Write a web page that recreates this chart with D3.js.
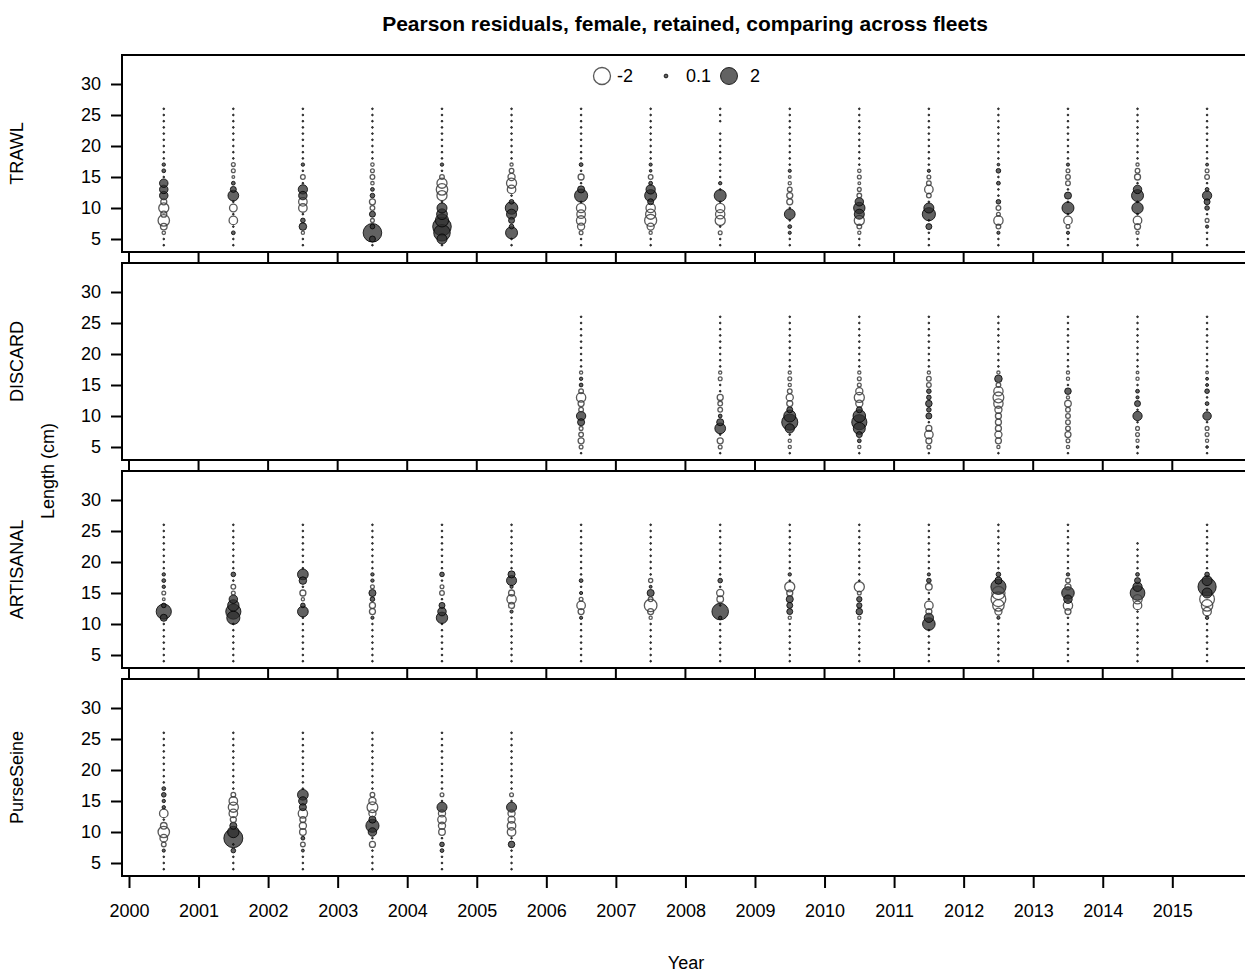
<!DOCTYPE html>
<html>
<head>
<meta charset="utf-8">
<script src="https://cdn.jsdelivr.net/npm/d3@7"></script>
<style>
  body { margin: 0; background: #fff; }
  text { font-family: "Liberation Sans", Arial, sans-serif; fill: #000; }
</style>
</head>
<body>
<div id="chart"></div>
<script>
const width = 1245;
const height = 974;

const t = 0.02; // near-zero residual, shows as a tiny dot

// lengths (cm) of each bin, bottom to top
const lengths = [4, 5, 6, 7, 8, 9, 10, 11, 12, 13, 14, 15, 16, 17, 18, 19, 20, 21, 22, 23, 24, 25, 26];
const yearTicks = [2000, 2001, 2002, 2003, 2004, 2005, 2006, 2007, 2008, 2009, 2010, 2011, 2012, 2013, 2014, 2015];
const lengthTicks = [5, 10, 15, 20, 25, 30];
const legendValues = [-2, 0.1, 2];

// Pearson residuals per year, one value per length bin (4..26 cm)
const trawlYears = [2000.5, 2001.5, 2002.5, 2003.5, 2004.5, 2005.5, 2006.5, 2007.5, 2008.5, 2009.5, 2010.5, 2011.5, 2012.5, 2013.5, 2014.5, 2015.5];
const trawlResid = [
  [t, t, -0.08, -0.3, -0.9, -0.25, -0.7, -0.25, 0.5, 0.5, 0.5, t, 0.1, 0.08, t, t, t, t, t, t, t, t, t],
  [t, t, 0.1, t, -0.5, t, -0.4, t, 0.8, 0.25, 0.1, -0.05, -0.1, -0.1, t, t, t, t, t, t, t, t, t],
  [t, t, -0.07, 0.4, 0.15, t, -0.5, -0.5, 0.5, 0.6, t, -0.15, t, 0.08, t, t, t, t, t, t, t, t, t],
  [t, 0.25, 2.4, 0.15, -0.1, 0.25, -0.15, -0.25, 0.15, 0.1, -0.08, -0.15, -0.1, -0.08, t, t, t, t, t, t, t, t, t],
  [t, 0.7, 1.9, 2.4, 1.2, 0.8, 0.7, t, -0.7, -0.9, -0.7, -0.15, t, 0.08, t, t, t, t, t, t, t, t, t],
  [t, t, 1.0, 0.15, 0.25, 0.7, 1.1, 0.15, t, -0.5, -0.7, -0.35, -0.15, -0.07, t, t, t, t, t, t, t, t, t],
  [t, t, -0.1, -0.35, -0.6, -0.5, -0.6, t, 1.2, 0.35, t, -0.25, t, 0.1, t, t, t, t, t, t, t, t, t],
  [t, t, -0.07, -0.35, -1.0, -0.7, -0.6, 0.25, 1.0, 0.6, 0.1, -0.15, 0.05, 0.07, t, t, t, t, t, t, t, t, t],
  [t, t, -0.1, t, -0.7, -0.6, -0.6, t, 1.0, t, 0.08, t, t, t, t, t, t, t, t, null, t, t, t],
  [t, t, 0.07, 0.1, t, 0.8, t, -0.25, -0.25, -0.15, -0.07, -0.05, 0.07, t, t, t, t, t, t, t, t, t, t],
  [t, t, -0.07, -0.15, -0.7, 0.7, 0.9, 0.5, -0.15, -0.1, -0.05, -0.1, -0.08, t, t, t, t, t, t, t, t, t, t],
  [t, t, t, 0.25, t, 1.2, 0.7, t, -0.15, -0.5, -0.15, -0.1, 0.07, t, t, t, t, t, t, t, t, t, t],
  [t, t, 0.07, -0.15, -0.6, -0.1, -0.15, 0.15, t, t, 0.1, t, 0.15, 0.05, t, t, t, t, t, t, t, t, t],
  [t, t, 0.07, -0.1, -0.5, t, 1.0, t, 0.35, t, -0.15, -0.15, -0.1, 0.07, t, t, t, t, t, t, t, t, t],
  [t, t, -0.07, -0.25, -0.5, t, 0.9, t, 1.0, 0.5, t, -0.25, -0.15, -0.07, t, t, t, t, t, t, t, t, t],
  [t, t, t, 0.07, -0.1, t, 0.15, 0.25, 0.6, 0.1, t, -0.15, -0.1, 0.06, t, t, t, t, t, t, t, t, t]
];

const discardYears = [2006.5, 2008.5, 2009.5, 2010.5, 2011.5, 2012.5, 2013.5, 2014.5, 2015.5];
const discardResid = [
  [t, -0.1, -0.25, -0.15, -0.1, 0.35, 0.6, -0.15, -0.25, -0.6, -0.15, 0.1, 0.08, -0.07, t, t, t, t, t, t, t, t, t],
  [t, -0.1, -0.25, t, 0.8, 0.35, 0.1, -0.15, -0.15, -0.25, t, t, -0.1, -0.07, t, t, t, t, t, t, t, t, t],
  [t, -0.07, -0.07, t, 0.6, 1.8, 1.0, 0.25, -0.25, -0.35, -0.15, -0.07, -0.1, -0.07, t, t, t, t, t, t, t, t, t],
  [t, -0.07, 0.1, 0.25, 1.0, 1.6, 1.1, 0.25, -0.35, -0.7, -0.35, -0.1, -0.1, -0.07, t, t, t, t, t, t, t, t, t],
  [t, -0.1, -0.25, -0.5, -0.25, t, 0.25, 0.15, 0.3, 0.15, 0.15, -0.15, -0.15, -0.07, t, t, t, t, t, t, t, t, t],
  [t, -0.07, -0.25, -0.35, -0.25, -0.25, -0.25, -0.35, -0.6, -0.8, -0.6, -0.15, 0.4, -0.07, t, t, t, t, t, t, t, t, t],
  [t, -0.07, -0.1, -0.25, -0.15, -0.15, -0.15, -0.15, -0.3, -0.07, 0.3, t, -0.07, -0.07, t, t, t, t, t, t, t, t, t],
  [t, 0.05, -0.07, -0.1, -0.1, t, 0.6, t, 0.25, 0.07, 0.1, t, -0.07, -0.05, t, t, t, t, t, t, t, t, t],
  [t, 0.05, -0.07, -0.1, -0.1, t, 0.5, t, 0.1, t, 0.15, 0.06, 0.06, -0.05, t, t, t, t, t, t, t, t, t]
];

const artisanalYears = [2000.5, 2001.5, 2002.5, 2003.5, 2004.5, 2005.5, 2006.5, 2007.5, 2008.5, 2009.5, 2010.5, 2011.5, 2012.5, 2013.5, 2014.5, 2015.5];
const artisanalResid = [
  [t, t, t, t, t, t, t, 0.35, 1.6, 0.15, -0.05, -0.1, 0.08, 0.1, 0.08, t, t, t, t, t, t, t, t],
  [t, t, t, t, t, t, t, 1.2, 1.6, 0.9, 0.5, -0.1, -0.15, t, 0.15, t, t, t, t, t, t, t, t],
  [t, t, t, t, t, t, t, t, 0.8, 0.15, -0.07, -0.25, t, 0.4, 0.8, t, t, t, t, t, t, t, t],
  [t, t, t, t, t, t, t, 0.07, -0.25, -0.25, 0.15, 0.35, -0.1, 0.08, 0.08, t, t, t, t, t, t, t, t],
  [t, t, t, t, t, t, t, 0.9, 0.5, 0.25, t, -0.15, -0.1, t, 0.15, t, t, t, t, t, t, t, t],
  [t, t, t, t, t, t, t, t, 0.07, -0.25, -0.6, -0.25, 0.07, 0.7, 0.35, t, t, t, t, t, t, t, t],
  [t, t, t, t, t, t, t, 0.07, -0.25, -0.5, -0.1, 0.07, t, 0.1, t, t, t, t, t, t, t, t, t],
  [t, t, t, t, t, t, t, -0.07, -0.25, -1.1, -0.15, 0.35, 0.06, -0.12, t, t, t, t, t, t, t, t, t],
  [t, t, t, t, t, t, t, 0.08, 1.9, t, -0.3, -0.35, t, 0.15, t, t, t, t, t, t, t, t, t],
  [t, t, t, t, t, t, t, -0.07, 0.25, 0.25, 0.35, -0.25, -0.7, t, 0.08, t, t, t, t, t, t, t, t],
  [t, t, t, t, t, t, t, -0.07, 0.3, 0.2, 0.2, -0.1, -0.7, t, t, t, t, t, t, t, t, t, t],
  [t, t, t, t, t, t, 1.1, 0.6, -0.25, -0.5, t, t, -0.3, 0.15, 0.07, t, t, t, t, t, t, t, t],
  [t, t, t, t, t, t, t, 0.07, -0.35, -0.9, -1.5, -1.2, 1.6, 0.35, 0.15, t, t, t, t, t, t, t, t],
  [t, t, t, t, t, t, t, t, -0.25, -0.6, 0.5, 1.1, -0.25, -0.15, 0.08, t, t, t, t, t, t, t, t],
  [t, t, t, t, t, t, t, t, t, -0.5, -0.6, 1.5, 0.6, 0.25, 0.1, t, t, t, t, t, null, null, null],
  [t, t, t, t, t, t, t, 0.08, -0.5, -0.9, -1.5, 0.7, 2.3, 0.7, 0.15, t, t, t, t, t, t, t, t]
];

const purseYears = [2000.5, 2001.5, 2002.5, 2003.5, 2004.5, 2005.5];
const purseResid = [
  [t, t, t, 0.07, -0.15, -0.4, -0.9, -0.3, t, -0.5, 0.08, 0.08, 0.15, 0.1, t, t, t, t, t, t, t, t, t],
  [t, t, t, 0.15, t, 2.5, 0.9, 0.35, -0.25, -0.5, -0.7, -0.5, -0.15, t, t, t, t, t, t, t, t, t, t],
  [t, t, t, 0.06, -0.15, 0.1, -0.3, -0.35, -0.25, -0.6, 0.35, 0.5, 0.8, t, t, t, t, t, t, t, t, t, t],
  [t, t, t, t, -0.25, t, 0.5, 1.2, 0.35, -0.35, -0.8, -0.35, -0.15, t, t, t, t, t, t, t, t, t, t],
  [t, t, t, 0.1, 0.15, t, -0.3, -0.35, -0.5, -0.35, 0.7, t, -0.1, t, t, t, t, t, t, t, t, t, t],
  [t, t, t, t, 0.3, t, -0.5, -0.5, -0.35, -0.35, 0.7, t, -0.1, t, t, t, t, t, t, t, t, t, t]
];

const panels = [
  { name: "TRAWL", years: trawlYears, resid: trawlResid },
  { name: "DISCARD", years: discardYears, resid: discardResid },
  { name: "ARTISANAL", years: artisanalYears, resid: artisanalResid },
  { name: "PurseSeine", years: purseYears, resid: purseResid }
];

const svg = d3.select("#chart").append("svg").attr("width", width).attr("height", height);

const panelLeft = 122;
const panelRight = 1252; // runs past the window edge, like the original
const panelH = 197;
const panelTops = [55, 263, 471, 679];
const fontSize = "18px";

const x = d3.scaleLinear().domain([2000, 2015]).range([129, 1172.3]);
const r = d3.scaleSqrt().domain([0, 2]).range([0, 8.5]);

const fillPos = "rgba(45,45,45,0.75)";
const strokePos = "rgba(0,0,0,0.8)";
const strokeNeg = "rgba(60,60,60,0.85)";

function bubble(sel) {
  sel.attr("r", d => r(Math.abs(d.v)))
    .attr("fill", d => d.v > 0 ? fillPos : "none")
    .attr("stroke", d => d.v > 0 ? strokePos : strokeNeg)
    .attr("stroke-width", d => d.v > 0 ? 1 : 1.3);
}

panels.forEach((p, i) => {
  const top = panelTops[i];
  const y = d3.scaleLinear().domain([5, 30]).range([top + 184, top + 29]);
  const g = svg.append("g");

  const pts = [];
  p.years.forEach((yr, j) => {
    p.resid[j].forEach((v, k) => {
      if (v !== null) pts.push({ yr: yr, len: lengths[k], v: v });
    });
  });
  pts.sort((a, b) => Math.abs(b.v) - Math.abs(a.v));

  g.selectAll("circle").data(pts).join("circle")
    .attr("cx", d => x(d.yr))
    .attr("cy", d => y(d.len))
    .call(bubble);

  // panel box
  g.append("rect")
    .attr("x", panelLeft).attr("y", top)
    .attr("width", panelRight - panelLeft).attr("height", panelH)
    .attr("fill", "none").attr("stroke", "#000").attr("stroke-width", 2);

  // length axis
  const ya = g.append("g").attr("transform", `translate(${panelLeft},0)`)
    .call(d3.axisLeft(y).tickValues(lengthTicks).tickSize(11).tickPadding(10));
  ya.select(".domain").remove();
  ya.selectAll("line").attr("stroke-width", 2);
  ya.selectAll("text").style("font-size", fontSize);

  // fleet label
  svg.append("text")
    .attr("transform", `translate(23,${top + panelH / 2}) rotate(-90)`)
    .attr("text-anchor", "middle")
    .style("font-size", fontSize)
    .text(p.name);

  // year ticks in the gap to the next panel
  if (i < panels.length - 1) {
    svg.append("g").selectAll("line").data(yearTicks).join("line")
      .attr("x1", d => x(d)).attr("x2", d => x(d))
      .attr("y1", top + panelH).attr("y2", panelTops[i + 1])
      .attr("stroke", "#000").attr("stroke-width", 2);
  }
});

// year axis under last panel
const lastBottom = panelTops[3] + panelH;
const xa = svg.append("g").attr("transform", `translate(0,${lastBottom})`)
  .call(d3.axisBottom(x).tickValues(yearTicks).tickFormat(d3.format("d")).tickSize(12).tickPadding(16));
xa.select(".domain").remove();
xa.selectAll("line").attr("stroke-width", 2);
xa.selectAll("text").style("font-size", fontSize);

// legend
const legendX = [602, 666, 729];
const legendTextX = [617, 686, 750];
const legend = svg.append("g").selectAll("g").data(legendValues).join("g")
  .attr("transform", (d, i) => `translate(${legendX[i]},76)`);
legend.append("circle").datum(d => ({ v: d })).call(bubble);
legend.append("text")
  .attr("x", (d, i) => legendTextX[i] - legendX[i])
  .attr("dy", "0.35em")
  .style("font-size", fontSize)
  .text(d => d);

// titles
svg.append("text")
  .attr("x", 685).attr("y", 31)
  .attr("text-anchor", "middle")
  .style("font-size", "21px").style("font-weight", "bold")
  .text("Pearson residuals, female, retained, comparing across fleets");

svg.append("text")
  .attr("transform", "translate(54,471) rotate(-90)")
  .attr("text-anchor", "middle")
  .style("font-size", fontSize)
  .text("Length (cm)");

svg.append("text")
  .attr("x", 686).attr("y", 969)
  .attr("text-anchor", "middle")
  .style("font-size", fontSize)
  .text("Year");
</script>
</body>
</html>
